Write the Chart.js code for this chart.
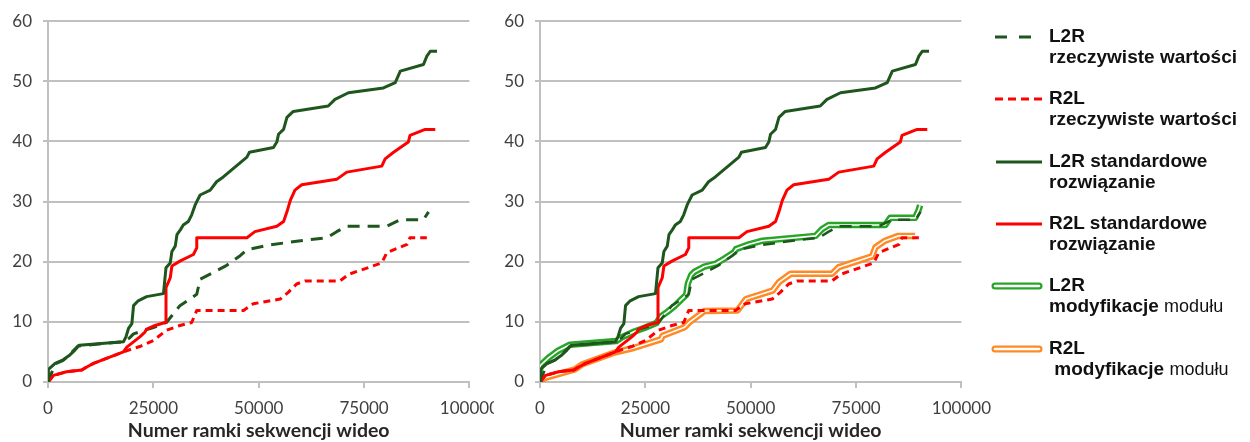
<!DOCTYPE html>
<html>
<head>
<meta charset="utf-8">
<script src="https://cdn.jsdelivr.net/npm/chart.js@4"></script>
<style>
body { margin: 0; background: #fff; width: 1250px; height: 442px; overflow: hidden; position: relative; font-family: "Liberation Sans", Arial, sans-serif; }
.box { position: absolute; top: 0; height: 442px; overflow: hidden; }
#b1 { left: 0; width: 494px; }
#b2 { left: 492px; width: 509px; }
#legend { position: absolute; left: 990px; top: 0; }
.item { position: absolute; left: 0; width: 260px; height: 44px; }
.item svg { position: absolute; left: 0; top: 0; }
.item .txt { position: absolute; left: 59px; top: 0; font-weight: bold; font-size: 19px; line-height: 21px; color: #111; white-space: pre; }
.item .txt span { font-weight: normal; font-size: 18px; }
</style>
</head>
<body>
<div class="box" id="b1"><canvas id="c1" width="509" height="442"></canvas></div>
<div class="box" id="b2"><canvas id="c2" width="509" height="442"></canvas></div>
<div id="legend"></div>
<script>
// [numer ramki, wartość]
const l2rStandard = [[0,0],[100,2.1],[1700,3.1],[3600,3.7],[5200,4.5],[6400,5.3],[7400,6.1],[17900,6.7],[18500,7.5],[19100,8.9],[19900,9.7],[20300,12.7],[21400,13.5],[23400,14.2],[27400,14.7],[28000,19],[29000,19.8],[29400,21.7],[30200,22.6],[30600,24.5],[31400,25.3],[32100,26.1],[33300,26.7],[34100,27.8],[34900,29.4],[35300,30],[36100,31.1],[38500,31.9],[40000,33.3],[41600,34.1],[47200,37.4],[47800,38.2],[53500,39],[54300,39.9],[54700,41.2],[55900,42],[56700,44],[58200,45],[66500,45.9],[68100,47],[71300,48.1],[79600,48.9],[82400,49.8],[83600,51.7],[89100,52.8],[89900,54.2],[90700,55],[92300,55]];
const r2lStandard = [[0,0],[500,0.4],[1300,1.1],[4400,1.7],[8000,2],[9200,2.5],[10800,3.1],[17900,5],[18700,5.8],[21800,7.5],[23000,8.3],[23400,8.8],[25400,9.4],[27800,9.9],[28000,15.7],[29000,17.3],[29400,19.3],[31300,20.1],[34500,21.2],[35300,22.3],[35300,24],[47200,24],[49100,25],[54300,25.9],[55900,26.7],[56700,28.3],[57500,30.2],[58600,31.9],[60200,32.8],[68500,33.7],[70900,34.9],[79200,35.9],[80000,37.1],[82000,38.2],[85500,39.9],[85900,41],[89500,42],[91900,42]];
const l2rReal = [[0,0],[1700,3],[3600,3.6],[5200,4.6],[7100,6],[18100,6.7],[19300,7.3],[20300,8],[22400,8.5],[24800,9],[28100,9.9],[29700,11.3],[31300,12.7],[34100,14],[35300,14.6],[36100,17.1],[39200,18.2],[42400,19.4],[45600,21],[47200,22],[52700,22.8],[59000,23.4],[66200,24],[68500,25],[70900,25.9],[80400,25.9],[83600,27],[89100,27],[90300,28.3]];
const r2lReal = [[0,0],[500,0.4],[1300,1.1],[4400,1.7],[8000,2],[9200,2.5],[10800,3.1],[17900,5],[19500,5.4],[21800,5.9],[25000,6.9],[28100,8.6],[31300,9.4],[34100,9.9],[35300,11.9],[46400,11.9],[48700,13],[55100,13.8],[57000,14.9],[59000,16.3],[61000,16.8],[69300,16.8],[71300,17.9],[79200,19.8],[80400,21.5],[85200,22.9],[85900,24],[89900,24]];
const l2rModified = [[0,0],[0,2.7],[2000,4],[4300,5.2],[7100,6.2],[18100,6.8],[19300,7.4],[22400,8.4],[24800,9],[27600,9.8],[28700,10.9],[30300,11.7],[31900,12.6],[33500,13.7],[34700,14.5],[35100,16.4],[35900,17.8],[36600,18.3],[39000,19.2],[41800,19.7],[43700,20.5],[46100,21.6],[46500,22.1],[49600,22.9],[52800,23.5],[65400,24.3],[66900,25.4],[68500,26.1],[81900,26.1],[83100,27.3],[89000,27.3],[89800,28.5],[90200,29.4]];
const r2lModified = [[0,0],[1200,0.7],[8300,2.1],[9900,2.9],[17700,4.9],[22400,5.7],[28700,7.1],[29100,7.7],[34300,9.1],[35400,9.9],[39000,11.8],[46900,11.9],[48900,13.8],[55200,15.2],[56700,16.6],[59500,18],[69300,18],[70900,19.1],[78800,20.9],[79600,22.4],[81900,23.5],[85000,24.3],[89000,24.3]];

const xTicks = [0, 25000, 50000, 75000, 100000];
const yTicks = [0, 10, 20, 30, 40, 50, 60];
const xTitle = 'Numer ramki sekwencji wideo';

const DARK_GREEN = '#1e561e';
const RED = '#ff0000';
const GREEN = '#28a428';
const ORANGE = '#ff8a25';
const GRID = '#c0c0c0';

function line(pairs, color, width, dash, order) {
    return {
        data: pairs.map(p => ({x: p[0], y: p[1]})),
        borderColor: color,
        borderWidth: width,
        borderDash: dash || [],
        borderJoinStyle: 'round',
        pointRadius: 0,
        tension: 0,
        fill: false,
        order: order
    };
}

function makeChart(id, datasets) {
    new Chart(document.getElementById(id), {
        type: 'line',
        data: {datasets: datasets},
        options: {
            responsive: false,
            animation: false,
            layout: {padding: {top: 17, right: 30, left: 0, bottom: 0}},
            plugins: {legend: {display: false}, tooltip: {enabled: false}},
            scales: {
                x: {
                    type: 'linear',
                    min: xTicks[0],
                    max: xTicks[xTicks.length - 1],
                    afterBuildTicks: s => { s.ticks = xTicks.map(v => ({value: v})); },
                    afterFit: s => { s.height = 60; },
                    ticks: {
                        callback: v => String(v),
                        maxRotation: 0,
                        padding: 10,
                        color: '#404040',
                        font: {family: 'Lato', size: 17}
                    },
                    grid: {drawOnChartArea: false, drawTicks: true, tickLength: 6, color: GRID, lineWidth: 2},
                    border: {display: true, color: GRID, width: 2},
                    title: {
                        display: true,
                        text: xTitle,
                        color: '#262626',
                        font: {family: 'Lato', size: 19.5, weight: 'bold'},
                        padding: {top: 0, bottom: 0}
                    }
                },
                y: {
                    min: yTicks[0],
                    max: yTicks[yTicks.length - 1],
                    afterBuildTicks: s => { s.ticks = yTicks.map(v => ({value: v})); },
                    afterFit: s => { s.width = 48; },
                    ticks: {
                        callback: v => String(v),
                        padding: 11,
                        color: '#404040',
                        font: {family: 'Lato', size: 17}
                    },
                    grid: {color: GRID, lineWidth: 2, tickLength: 5},
                    border: {display: true, color: GRID, width: 2}
                }
            }
        }
    });
}

makeChart('c1', [
    line(l2rStandard, DARK_GREEN, 3, null, 0),
    line(r2lStandard, RED, 3, null, 1),
    line(l2rReal, DARK_GREEN, 3, [12, 8], 2),
    line(r2lReal, RED, 3, [7, 5], 3)
]);

makeChart('c2', [
    line(l2rStandard, DARK_GREEN, 3, null, 0),
    line(r2lStandard, RED, 3, null, 1),
    line(l2rReal, DARK_GREEN, 2.5, [12, 8], 2),
    line(r2lReal, RED, 3, [7, 5], 3),
    line(l2rModified, '#ffffff', 1.6, null, 4),
    line(l2rModified, GREEN, 6.5, null, 5),
    line(r2lModified, '#ffffff', 1.6, null, 6),
    line(r2lModified, ORANGE, 6.5, null, 7)
]);

// legenda
const legendItems = [
    {kind: 'dash', color: DARK_GREEN, dash: '12 12', text: 'L2R\nrzeczywiste wartości'},
    {kind: 'dash', color: RED, dash: '8 5', text: 'R2L\nrzeczywiste wartości'},
    {kind: 'solid', color: DARK_GREEN, text: 'L2R standardowe\nrozwiązanie'},
    {kind: 'solid', color: RED, text: 'R2L standardowe\nrozwiązanie'},
    {kind: 'double', color: GREEN, text: 'L2R\nmodyfikacje <span>modułu</span>'},
    {kind: 'double', color: ORANGE, text: 'R2L\n modyfikacje <span>modułu</span>'}
];

const legend = document.getElementById('legend');
legendItems.forEach((item, i) => {
    const div = document.createElement('div');
    div.className = 'item';
    div.style.top = (25 + i * 62.3) + 'px';
    let svg;
    if (item.kind === 'double') {
        svg = `<line x1="5" y1="12" x2="49" y2="12" stroke="${item.color}" stroke-width="7" stroke-linecap="round"/>` +
              `<line x1="5" y1="12" x2="49" y2="12" stroke="#fff" stroke-width="2.5" stroke-linecap="round"/>`;
    } else if (item.kind === 'dash') {
        svg = `<line x1="5" y1="12" x2="52" y2="12" stroke="${item.color}" stroke-width="3" stroke-dasharray="${item.dash}"/>`;
    } else {
        svg = `<line x1="6" y1="12" x2="52" y2="12" stroke="${item.color}" stroke-width="3"/>`;
    }
    div.innerHTML = `<svg width="56" height="24">${svg}</svg><div class="txt">${item.text}</div>`;
    legend.appendChild(div);
});
</script>
</body>
</html>
